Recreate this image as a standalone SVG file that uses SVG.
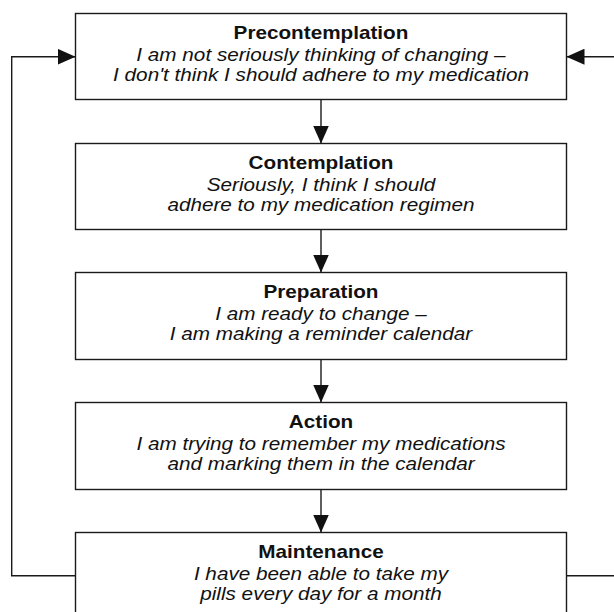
<svg xmlns="http://www.w3.org/2000/svg" width="614" height="612" viewBox="0 0 614 612">
  <defs>
    <style>
      .box { fill: #ffffff; stroke: #1a1a1a; stroke-width: 1.4; }
      .line { fill: none; stroke: #1a1a1a; stroke-width: 1.4; }
      .title { font-family: "Liberation Sans", Arial, sans-serif; font-weight: bold; font-size: 17.7px; fill: #111; text-anchor: middle; }
      .desc { font-family: "Liberation Sans", Arial, sans-serif; font-style: italic; font-size: 17.7px; fill: #111; text-anchor: middle; }
    </style>
    <marker id="ah" viewBox="0 0 18 16" refX="18" refY="8" markerWidth="18" markerHeight="16" markerUnits="userSpaceOnUse" orient="auto">
      <path d="M0,0 L18,8 L0,16 Z" fill="#111"/>
    </marker>
  </defs>
  <rect width="614" height="612" fill="#ffffff"/>

  <g id="connectors">
    <line class="line" x1="321" y1="99.5" x2="321" y2="143.5" marker-end="url(#ah)"/>
    <line class="line" x1="321" y1="229.5" x2="321" y2="272.5" marker-end="url(#ah)"/>
    <line class="line" x1="321" y1="359.5" x2="321" y2="402.5" marker-end="url(#ah)"/>
    <line class="line" x1="321" y1="489.5" x2="321" y2="532.5" marker-end="url(#ah)"/>
    <polyline class="line" points="75.5,575.7 11.7,575.7 11.7,56.7 75.5,56.7" marker-end="url(#ah)"/>
    <line class="line" x1="566.5" y1="575.7" x2="616" y2="575.7"/>
    <line class="line" x1="616" y1="56.7" x2="566.5" y2="56.7" marker-end="url(#ah)"/>
  </g>

  <g id="precontemplation">
    <rect class="box" x="75.5" y="13.5" width="491" height="86"/>
    <g transform="translate(321 0) scale(1.17 1)">
      <text class="title" x="0" y="39.5">Precontemplation</text>
      <text class="desc" x="0" y="61">I am not seriously thinking of changing –</text>
      <text class="desc" x="0" y="81.5">I don't think I should adhere to my medication</text>
    </g>
  </g>

  <g id="contemplation">
    <rect class="box" x="75.5" y="143.5" width="491" height="86"/>
    <g transform="translate(321 0) scale(1.17 1)">
      <text class="title" x="0" y="169.5">Contemplation</text>
      <text class="desc" x="0" y="191">Seriously, I think I should</text>
      <text class="desc" x="0" y="211.5">adhere to my medication regimen</text>
    </g>
  </g>

  <g id="preparation">
    <rect class="box" x="75.5" y="272.5" width="491" height="87"/>
    <g transform="translate(321 0) scale(1.17 1)">
      <text class="title" x="0" y="298.5">Preparation</text>
      <text class="desc" x="0" y="320">I am ready to change –</text>
      <text class="desc" x="0" y="340.5">I am making a reminder calendar</text>
    </g>
  </g>

  <g id="action">
    <rect class="box" x="75.5" y="402.5" width="491" height="87"/>
    <g transform="translate(321 0) scale(1.17 1)">
      <text class="title" x="0" y="428.5">Action</text>
      <text class="desc" x="0" y="450">I am trying to remember my medications</text>
      <text class="desc" x="0" y="470.5">and marking them in the calendar</text>
    </g>
  </g>

  <g id="maintenance">
    <rect class="box" x="75.5" y="532.5" width="491" height="87"/>
    <g transform="translate(321 0) scale(1.17 1)">
      <text class="title" x="0" y="558.5">Maintenance</text>
      <text class="desc" x="0" y="580">I have been able to take my</text>
      <text class="desc" x="0" y="600.5">pills every day for a month</text>
    </g>
  </g>
</svg>
